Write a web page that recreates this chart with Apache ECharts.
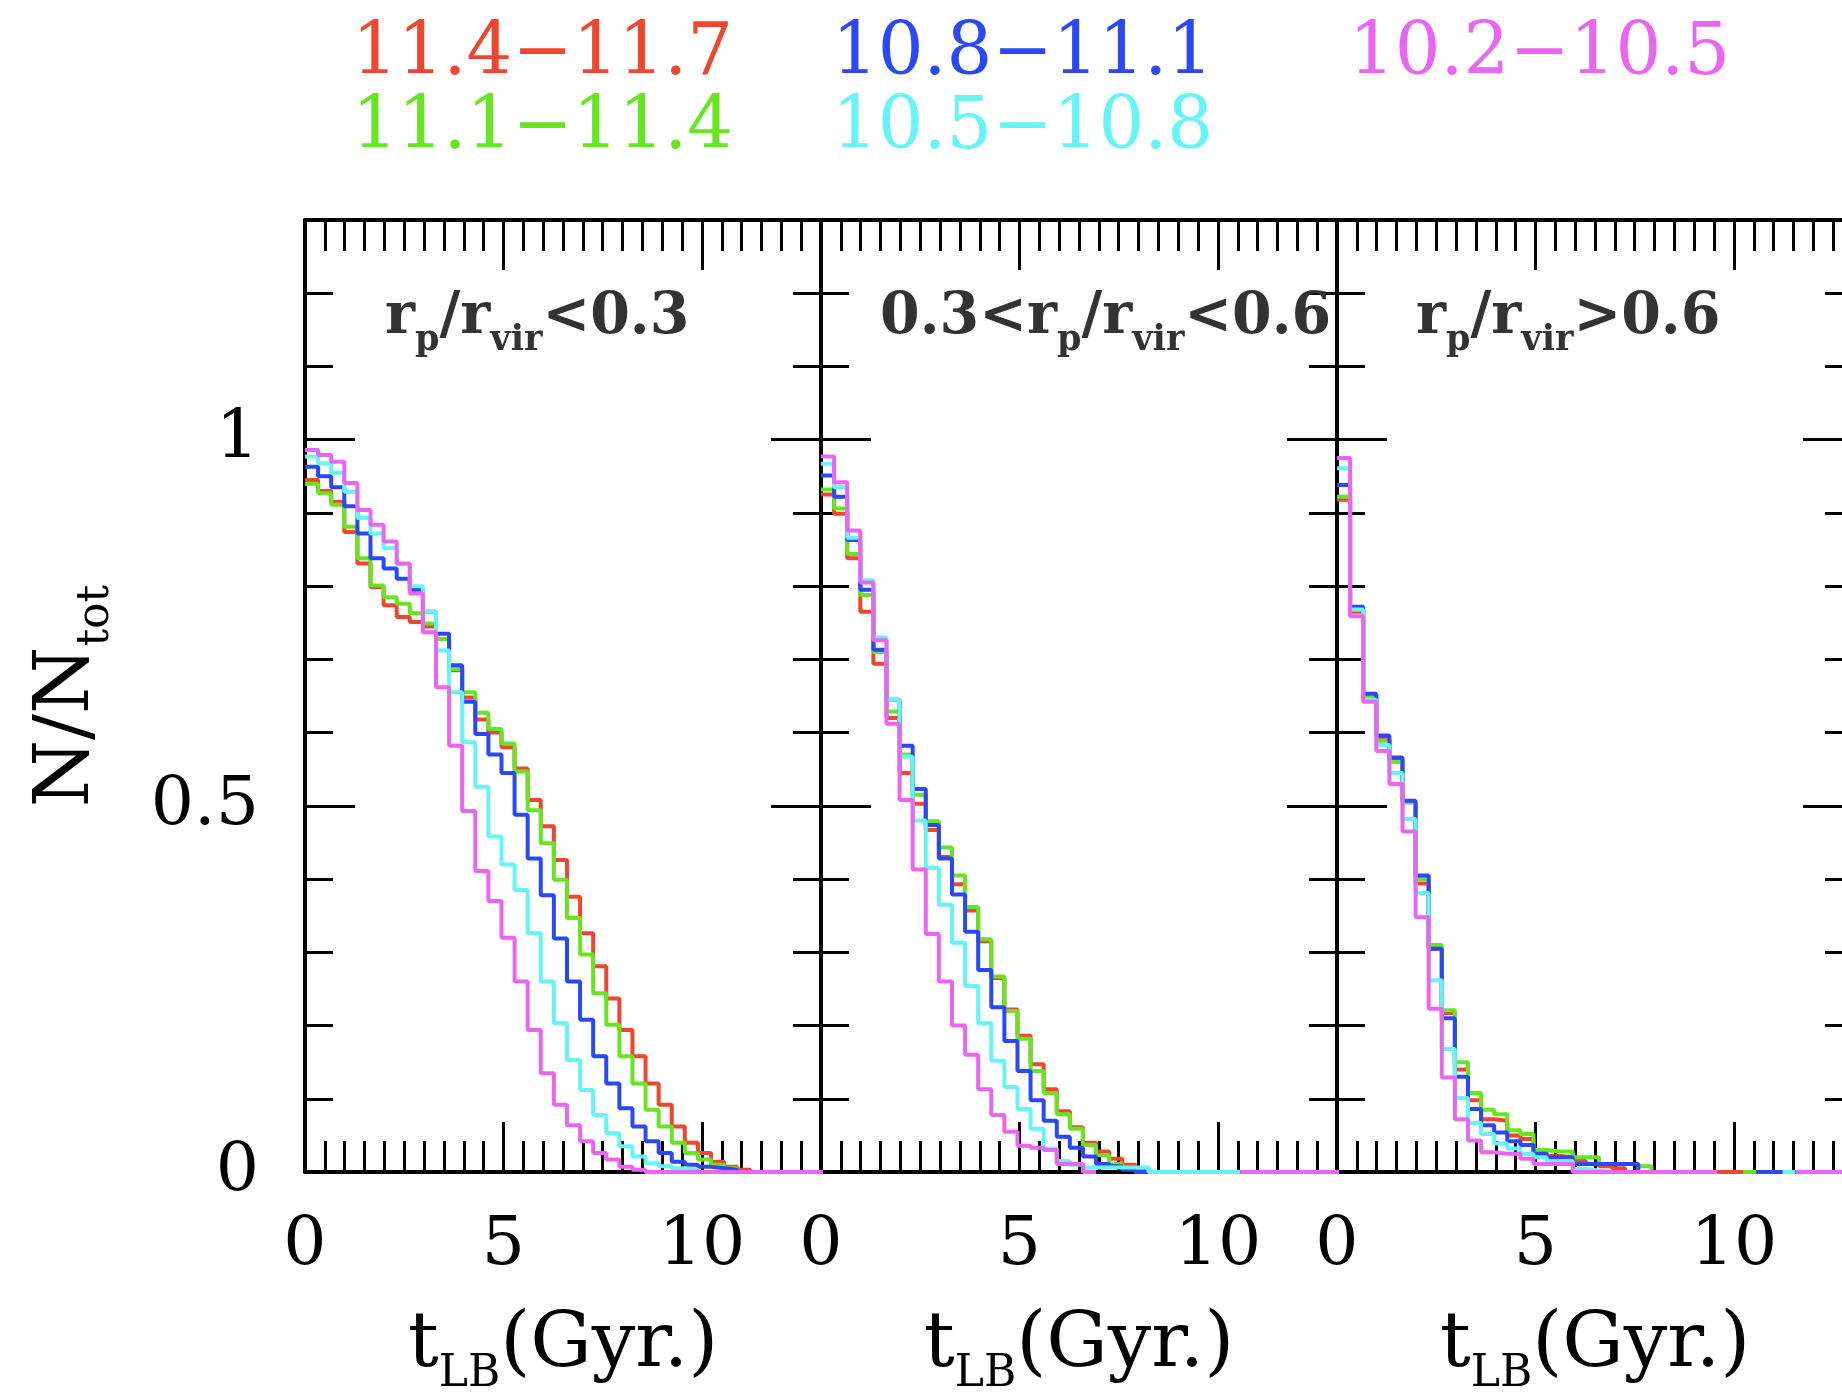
<!DOCTYPE html>
<html>
<head>
<meta charset="utf-8">
<script src="https://cdn.jsdelivr.net/npm/echarts@6/dist/echarts.min.js"></script>
<style>
html,body{margin:0;padding:0;background:#fff;}
#c{width:1842px;height:1392px;}
</style>
</head>
<body>
<div id="c"></div>
<script>
// ---------------- data ----------------
// lookback-time bin edges (Gyr) shared by all histograms
const T_EDGES = [0, 0.33, 0.66, 0.99, 1.32, 1.65, 1.98, 2.31, 2.64, 2.97, 3.30, 3.63, 3.96, 4.29, 4.62, 4.95,
  5.28, 5.61, 5.94, 6.27, 6.60, 6.93, 7.26, 7.59, 7.92, 8.25, 8.58, 8.91, 9.24, 9.57, 9.90, 10.23, 10.56,
  10.89, 11.22, 11.55, 11.88, 12.21, 12.54, 12.87, 13.20];

const MASS_BINS = ['11.4\u221211.7', '11.1\u221211.4', '10.8\u221211.1', '10.5\u221210.8', '10.2\u221210.5'];
const COLORS = ['#ef472f', '#66e620', '#2a48f8', '#66f4f6', '#ea66f2'];

const PANEL_LABELS = [
  '{m|r}{s|p}{m|/r}{s|vir}{m|<0.3}',
  '{m|0.3<r}{s|p}{m|/r}{s|vir}{m|<0.6}',
  '{m|r}{s|p}{m|/r}{s|vir}{m|>0.6}'
];
const X_NAME = '{m|t}{s|LB}{m|(Gyr.)}';
const Y_NAME = '{m|N/N}{s|tot}';

// panel 1 : rp/rvir < 0.3
const P1_RED = [0.945, 0.930, 0.915, 0.874, 0.831, 0.799, 0.774, 0.758, 0.751, 0.745,
  0.728, 0.685, 0.648, 0.618, 0.600, 0.580, 0.551, 0.508, 0.472, 0.426,
  0.376, 0.326, 0.281, 0.237, 0.194, 0.158, 0.121, 0.092, 0.062, 0.040,
  0.026, 0.014, 0.007, 0.003, 0, 0, 0, 0, 0, 0];
const P1_GREEN = [0.940, 0.927, 0.911, 0.881, 0.838, 0.801, 0.785, 0.776, 0.763, 0.749,
  0.728, 0.687, 0.655, 0.627, 0.605, 0.585, 0.547, 0.494, 0.449, 0.399,
  0.347, 0.297, 0.244, 0.201, 0.158, 0.121, 0.085, 0.062, 0.040, 0.026,
  0.017, 0.010, 0.005, 0, 0, 0, 0, 0, 0, 0];
const P1_BLUE = [0.963, 0.950, 0.935, 0.909, 0.872, 0.838, 0.824, 0.810, 0.795, 0.765,
  0.735, 0.692, 0.642, 0.598, 0.570, 0.545, 0.488, 0.428, 0.378, 0.319,
  0.260, 0.208, 0.158, 0.121, 0.087, 0.062, 0.042, 0.026, 0.014, 0.010,
  0.007, 0.005, 0.003, 0, 0, 0, 0, 0, 0, 0];
const P1_CYAN = [0.977, 0.968, 0.955, 0.929, 0.893, 0.872, 0.852, 0.830, 0.800, 0.765,
  0.712, 0.655, 0.587, 0.526, 0.458, 0.420, 0.385, 0.326, 0.260, 0.203,
  0.153, 0.112, 0.078, 0.053, 0.035, 0.021, 0.012, 0.008, 0.005, 0.003,
  0, 0, 0, 0, 0, 0, 0, 0, 0, 0];
const P1_MAGENTA = [0.986, 0.979, 0.970, 0.941, 0.904, 0.884, 0.861, 0.831, 0.790, 0.737,
  0.662, 0.582, 0.493, 0.411, 0.370, 0.320, 0.260, 0.194, 0.135, 0.092,
  0.064, 0.042, 0.026, 0.017, 0.007, 0.003, 0, 0, 0, 0,
  0, 0, 0, 0, 0, 0, 0, 0, 0, 0];

// panel 2 : 0.3 < rp/rvir < 0.6
const P2_RED = [0.925, 0.899, 0.838, 0.765, 0.694, 0.620, 0.545, 0.503, 0.467, 0.430,
  0.393, 0.357, 0.315, 0.265, 0.222, 0.186, 0.147, 0.113, 0.083, 0.061,
  0.040, 0.028, 0.018, 0.010, 0.004, 0, null, null, null, null,
  null, null, null, null, null, null, null, null, null, null];
const P2_GREEN = [0.932, 0.906, 0.844, 0.788, 0.710, 0.629, 0.570, 0.515, 0.479, 0.443,
  0.405, 0.362, 0.318, 0.267, 0.220, 0.182, 0.138, 0.108, 0.079, 0.059,
  0.037, 0.023, 0.011, 0.004, 0, null, null, null, null, null,
  null, null, null, null, null, null, null, null, null, null];
const P2_BLUE = [0.951, 0.922, 0.863, 0.795, 0.713, 0.645, 0.582, 0.523, 0.474, 0.428,
  0.379, 0.328, 0.276, 0.225, 0.179, 0.138, 0.098, 0.070, 0.048, 0.033,
  0.021, 0.011, 0.008, 0.003, 0, null, null, null, null, null,
  null, null, null, null, null, null, null, null, null, null];
const P2_CYAN = [0.967, 0.935, 0.866, 0.808, 0.730, 0.645, 0.567, 0.480, 0.415, 0.365,
  0.313, 0.254, 0.203, 0.152, 0.116, 0.086, 0.059, 0.032, 0.015, 0.010,
  0.006, 0.006, 0.006, 0.006, 0.006, 0, 0, 0, 0, 0,
  0, 0, null, null, null, null, null, null, null, null];
const P2_MAGENTA = [0.977, 0.942, 0.876, 0.805, 0.726, 0.612, 0.508, 0.413, 0.325, 0.260,
  0.200, 0.160, 0.113, 0.078, 0.055, 0.036, 0.033, 0.030, 0.011, 0.011,
  0, null, null, null, null, null, null, null, null, null,
  null, null, 0, 0, 0, 0, 0, 0, 0, 0];

// panel 3 : rp/rvir > 0.6
const P3_RED = [0.918, 0.765, 0.648, 0.592, 0.562, 0.505, 0.394, 0.305, 0.217, 0.140,
  0.098, 0.072, 0.070, 0.050, 0.045, 0.028, 0.022, 0.020, 0.015, 0.011,
  0.008, 0.005, 0, 0, 0, 0, 0, 0, 0, 0,
  0, null, null, null, null, null, null, null, null, null];
const P3_GREEN = [0.922, 0.768, 0.650, 0.589, 0.560, 0.505, 0.400, 0.310, 0.221, 0.150,
  0.108, 0.085, 0.079, 0.057, 0.052, 0.030, 0.028, 0.028, 0.020, 0.020,
  0.011, 0.011, 0.011, 0.008, 0, 0, 0, 0, 0, null,
  null, 0, null, null, null, null, null, null, null, null];
const P3_BLUE = [0.938, 0.772, 0.653, 0.596, 0.566, 0.507, 0.405, 0.305, 0.210, 0.130,
  0.086, 0.064, 0.054, 0.042, 0.037, 0.025, 0.020, 0.020, 0.011, 0.011,
  0.011, 0.011, 0.011, 0, 0, 0, 0, 0, 0, null,
  null, null, 0, 0, null, null, null, null, null, null];
const P3_CYAN = [0.961, 0.768, 0.645, 0.583, 0.545, 0.482, 0.381, 0.262, 0.168, 0.101,
  0.067, 0.052, 0.039, 0.032, 0.025, 0.020, 0.015, 0.015, 0.004, 0.002,
  0, 0, 0, 0, 0, 0, 0, 0, 0, null,
  null, null, null, null, 0, null, null, null, null, null];
const P3_MAGENTA = [0.975, 0.759, 0.642, 0.575, 0.530, 0.465, 0.348, 0.223, 0.129, 0.072,
  0.043, 0.027, 0.025, 0.025, 0.018, 0.011, 0.011, 0.011, 0, 0,
  0, 0, 0, 0, 0, 0, 0, 0, 0, null,
  null, null, null, null, null, 0, 0, 0, 0, 0];

const PANELS = [
  [P1_RED, P1_GREEN, P1_BLUE, P1_CYAN, P1_MAGENTA],
  [P2_RED, P2_GREEN, P2_BLUE, P2_CYAN, P2_MAGENTA],
  [P3_RED, P3_GREEN, P3_BLUE, P3_CYAN, P3_MAGENTA]
];

// ---------------- styling / layout ----------------
const FONT = 'DejaVu Serif';
const GRID_LEFT = [305, 821, 1337];
const GRID_TOP = 220, GRID_W = 516, GRID_H = 952;
const LABEL_LEFT = [385, 880, 1416];
const LEGEND_LEFT = [347, 827, 1344];

const MAJOR_TICK = {show: true, inside: true, length: 50, lineStyle: {color: '#000', width: 3}};
const MINOR_TICK_X = {show: true, inside: true, length: 31, lineStyle: {color: '#000', width: 3}};
const MINOR_TICK_Y = {show: true, inside: true, length: 28, lineStyle: {color: '#000', width: 3}};
const AXIS_LINE = {show: true, onZero: false, lineStyle: {color: '#000', width: 4}};
const NO_LINE = {show: false, onZero: false};

const LABEL_RICH = {
  m: {fontFamily: FONT, fontSize: 57, fontWeight: 'bold', color: '#333', lineHeight: 64},
  s: {fontFamily: FONT, fontSize: 35, fontWeight: 'bold', color: '#333', lineHeight: 30, padding: [46, 0, 0, 0]}
};
const NAME_RICH = {
  m: {fontFamily: FONT, fontSize: 77, color: '#000', lineHeight: 88},
  s: {fontFamily: FONT, fontSize: 44, color: '#000', lineHeight: 30, padding: [58, 0, 0, 0]}
};

function stepPoints(vals) {
  const pts = [];
  vals.forEach((v, i) => {
    if (v === null) {
      pts.push([T_EDGES[i], null]);
    } else {
      pts.push([T_EDGES[i], v]);
      pts.push([T_EDGES[i + 1], v]);
    }
  });
  return pts;
}

const grids = [], xAxes = [], yAxes = [], series = [];
GRID_LEFT.forEach((left, g) => {
  grids.push({left: left, top: GRID_TOP, width: GRID_W, height: GRID_H, containLabel: false, outerBoundsMode: 'none'});
  const xb = {gridIndex: g, type: 'value', min: 0, max: 13, splitLine: {show: false}, axisLabel: {show: false}};
  xAxes.push(Object.assign({}, xb, {
    position: 'bottom', interval: 5, axisLine: AXIS_LINE, axisTick: MAJOR_TICK,
    axisLabel: {show: true, showMaxLabel: false, margin: 40, fontFamily: FONT, fontSize: 68, color: '#000'},
    name: X_NAME, nameLocation: 'middle', nameGap: 130, nameTextStyle: {rich: NAME_RICH}
  }));
  xAxes.push(Object.assign({}, xb, {position: 'bottom', interval: 0.5, axisLine: NO_LINE, axisTick: MINOR_TICK_X}));
  xAxes.push(Object.assign({}, xb, {position: 'top', interval: 5, axisLine: AXIS_LINE, axisTick: MAJOR_TICK}));
  xAxes.push(Object.assign({}, xb, {position: 'top', interval: 0.5, axisLine: NO_LINE, axisTick: MINOR_TICK_X}));

  const yb = {gridIndex: g, type: 'value', min: 0, max: 1.3, splitLine: {show: false}, axisLabel: {show: false}};
  const yMain = Object.assign({}, yb, {position: 'left', interval: 0.5, axisLine: AXIS_LINE, axisTick: MAJOR_TICK});
  if (g === 0) {
    yMain.axisLabel = {show: true, showMaxLabel: false, margin: 46, fontFamily: FONT, fontSize: 68, color: '#000', padding: [6, 0, 0, 0]};
    yMain.name = Y_NAME;
    yMain.nameLocation = 'middle';
    yMain.nameRotate = 90;
    yMain.nameGap = 193;
    yMain.nameTextStyle = {rich: NAME_RICH};
  }
  yAxes.push(yMain);
  yAxes.push(Object.assign({}, yb, {position: 'left', interval: 0.1, axisLine: NO_LINE, axisTick: MINOR_TICK_Y}));
  yAxes.push(Object.assign({}, yb, {position: 'right', interval: 0.5, axisLine: AXIS_LINE, axisTick: MAJOR_TICK}));
  yAxes.push(Object.assign({}, yb, {position: 'right', interval: 0.1, axisLine: NO_LINE, axisTick: MINOR_TICK_Y}));

  PANELS[g].forEach((vals, s) => {
    series.push({
      name: MASS_BINS[s], type: 'line', xAxisIndex: g * 4, yAxisIndex: g * 4,
      data: stepPoints(vals), symbol: 'none', showSymbol: false, connectNulls: false,
      lineStyle: {color: COLORS[s], width: 4}, itemStyle: {color: COLORS[s]},
      animation: false, silent: true
    });
  });
});

const legendCols = [[0, 1], [2, 3], [4]];
const legends = legendCols.map((idx, c) => ({
  left: LEGEND_LEFT[c], top: 18, orient: 'vertical', padding: 0, itemGap: 0,
  icon: 'none', itemWidth: 0, itemHeight: 0, selectedMode: false,
  textStyle: {fontFamily: FONT, fontSize: 72, lineHeight: 74},
  data: idx.map(i => ({name: MASS_BINS[i], textStyle: {color: COLORS[i]}}))
}));

const titles = PANEL_LABELS.map((t, i) => ({
  text: t, left: LABEL_LEFT[i], top: 286, padding: 0,
  textStyle: {rich: LABEL_RICH}
}));

const chart = echarts.init(document.getElementById('c'), null, {renderer: 'canvas', width: 1842, height: 1392});
chart.setOption({
  backgroundColor: '#ffffff',
  animation: false,
  textStyle: {fontFamily: FONT},
  title: titles,
  legend: legends,
  grid: grids,
  xAxis: xAxes,
  yAxis: yAxes,
  series: series
});
</script>
</body>
</html>
